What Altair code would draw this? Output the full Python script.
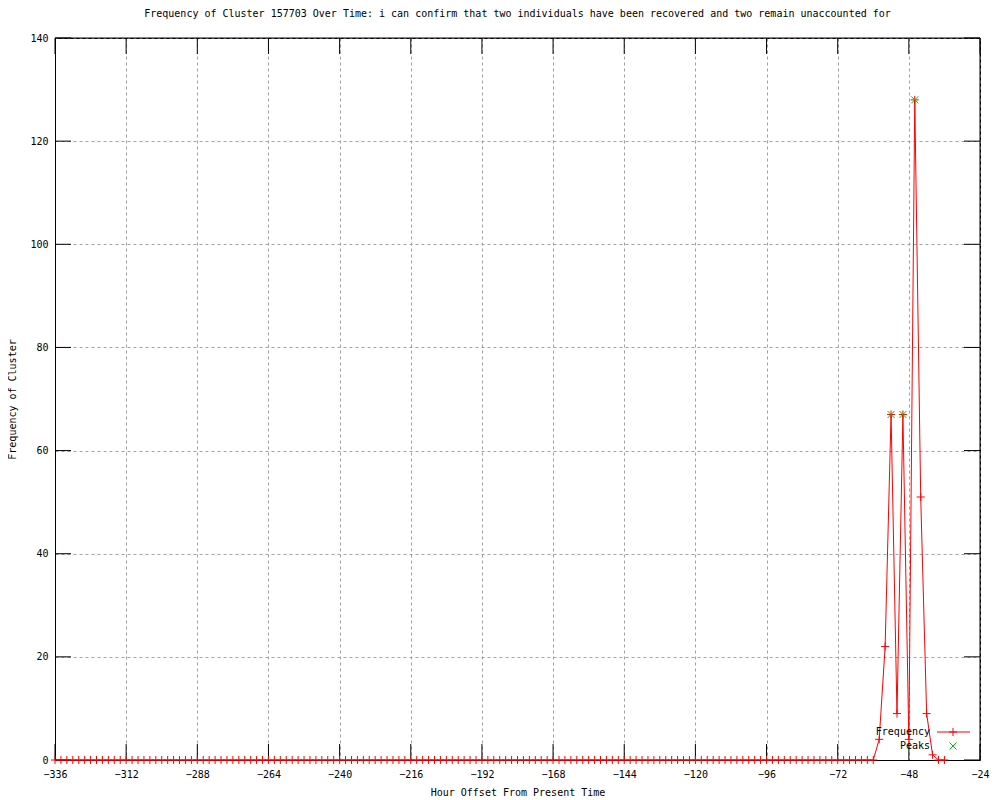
import altair as alt
import pandas as pd

# ---- data ----
hours = list(range(-336, -34, 2))
freq = [0] * 139 + [4, 22, 67, 9, 67, 4, 128, 51, 9, 1, 0, 0]
peak_hours = [-54, -50, -46]
peak_values = [67, 67, 128]
x_ticks = list(range(-336, -23, 24))
y_ticks = list(range(0, 141, 20))

title_text = ("Frequency of Cluster 157703 Over Time: i can confirm that two "
              "individuals have been recovered and two remain unaccounted for")

df = pd.DataFrame({"hour": hours, "freq": freq})
pk = pd.DataFrame({"hour": peak_hours, "freq": peak_values})
xt = pd.DataFrame({"hour": x_ticks})
yt = pd.DataFrame({"freq": y_ticks})
one = pd.DataFrame({"a": [0]})

FONT = "DejaVu Sans Mono"
W, H = 925, 722
PLUS = "M-1,0L1,0M0,-1L0,1"
CROSS = "M-1,-1L1,1M1,-1L-1,1"

xscale = alt.Scale(domain=[-336, -24], nice=False, zero=False)
yscale = alt.Scale(domain=[0, 140], nice=False, zero=False)

common = dict(grid=True, gridDash=[3, 3], gridColor="#a0a0a0",
              ticks=False, domain=True, domainColor="black",
              labelFlush=False, labelOverlap=False, format="d",
              labelFont=FONT, labelFontSize=10, labelColor="black",
              titleFont=FONT, titleFontSize=10, titleFontWeight="normal",
              titleColor="black")
xaxis = alt.Axis(values=x_ticks, title="Hour Offset From Present Time",
                 labelPadding=9, titlePadding=8, **common)
yaxis = alt.Axis(values=y_ticks, title="Frequency of Cluster",
                 labelPadding=7, titlePadding=12, **common)

X = alt.X("hour:Q", scale=xscale, axis=xaxis)
Y = alt.Y("freq:Q", scale=yscale, axis=yaxis)

line = alt.Chart(df).mark_line(color="#ff0000", strokeWidth=1).encode(x=X, y=Y)
pts = alt.Chart(df).mark_point(shape=PLUS, size=64, color="#ff0000",
                               strokeWidth=1, filled=False, opacity=1).encode(x=X, y=Y)
peaks = alt.Chart(pk).mark_point(shape=CROSS, size=49, color="#00c000",
                                 strokeWidth=1, filled=False, opacity=1).encode(x=X, y=Y)

# inward major ticks on all four sides
xt_bot = alt.Chart(xt).mark_rule(color="black").encode(
    x=X, y=alt.value(H), y2=alt.value(H - 16))
xt_top = alt.Chart(xt).mark_rule(color="black").encode(
    x=X, y=alt.value(0), y2=alt.value(16))
yt_left = alt.Chart(yt).mark_rule(color="black").encode(
    y=Y, x=alt.value(0), x2=alt.value(16))
yt_right = alt.Chart(yt).mark_rule(color="black").encode(
    y=Y, x=alt.value(W - 16), x2=alt.value(W))

# border top/right
top_border = alt.Chart(one).mark_rule(color="black").encode(
    x=alt.value(0), x2=alt.value(W), y=alt.value(0))
right_border = alt.Chart(one).mark_rule(color="black").encode(
    x=alt.value(W), y=alt.value(0), y2=alt.value(H))

# legend (inside, bottom right)
leg_txt1 = alt.Chart(one).mark_text(font=FONT, fontSize=10, align="right",
                                    baseline="middle", color="black").encode(
    x=alt.value(875), y=alt.value(694), text=alt.value("Frequency"))
leg_txt2 = alt.Chart(one).mark_text(font=FONT, fontSize=10, align="right",
                                    baseline="middle", color="black").encode(
    x=alt.value(875), y=alt.value(708), text=alt.value("Peaks"))
leg_line = alt.Chart(one).mark_rule(color="#ff0000", strokeWidth=1).encode(
    x=alt.value(882), x2=alt.value(915), y=alt.value(694))
leg_plus = alt.Chart(one).mark_point(shape=PLUS, size=64, color="#ff0000",
                                     strokeWidth=1, filled=False, opacity=1).encode(
    x=alt.value(898), y=alt.value(694))
leg_cross = alt.Chart(one).mark_point(shape=CROSS, size=49, color="#00c000",
                                      strokeWidth=1, filled=False, opacity=1).encode(
    x=alt.value(898), y=alt.value(708))

chart = alt.layer(
    line, xt_bot, xt_top, yt_left, yt_right, top_border, right_border,
    pts, peaks, leg_txt1, leg_txt2, leg_line, leg_plus, leg_cross,
).properties(
    width=W, height=H,
    title=alt.TitleParams(title_text, font=FONT, fontSize=10, fontWeight="normal",
                          anchor="middle", color="black", offset=14),
    autosize=alt.AutoSizeParams(type="none"),
    padding={"left": 47, "top": 30, "right": 12, "bottom": 40},
    background="white",
).configure_view(
    stroke="black", strokeWidth=1
)

chart.save("out.html", embed_options={"renderer": "svg", "actions": False})
